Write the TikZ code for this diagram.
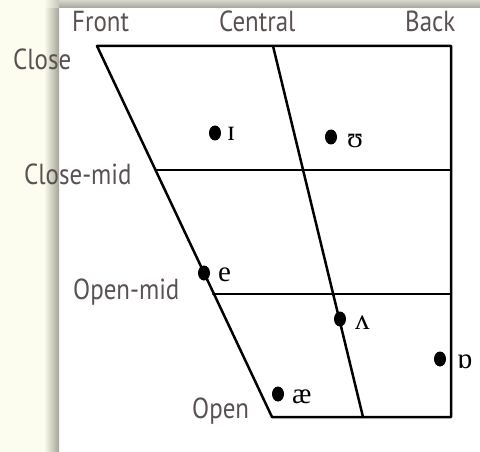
\documentclass[tikz,border=0pt]{standalone}
\usepackage{fontspec}
\usetikzlibrary{shapes.geometric}
\newfontfamily\labfont[FakeStretch=0.86]{PT Sans}
\newfontfamily\ipafont{Liberation Serif}
\definecolor{bgbeige}{HTML}{FDFDEF}
\definecolor{edgegray}{HTML}{A4A496}
\definecolor{topgray}{HTML}{C6C6BA}
\definecolor{labgray}{HTML}{5A5252}
\begin{document}
\begin{tikzpicture}[x=1pt,y=-1pt,
  frame/.style={line width=2.5pt,black,line cap=round,line join=round},
  axislab/.style={anchor=base west,inner sep=0pt,text=labgray,font=\labfont\fontsize{29}{29}\selectfont},
  vowel/.style={anchor=base west,inner sep=0pt,text=black,font=\ipafont\fontsize{29}{29}\selectfont},
  vdot/.style={ellipse,fill=black,minimum width=12pt,minimum height=15pt,inner sep=0pt}]
\useasboundingbox (0,0) rectangle (480,452);
% background panel with shadow
\fill[bgbeige] (0,0) rectangle (480,452);
\fill[white] (59,8) rectangle (480,452);
\shade[left color=bgbeige,right color=edgegray] (44,8) rectangle (59,452);
\shade[top color=topgray!70,bottom color=edgegray] (59,0) rectangle (480,8);
\shade[left color=bgbeige,right color=topgray] (44,0) rectangle (59,8);
% chart corners
\coordinate (TL) at (97,46);
\coordinate (TR) at (451,46);
\coordinate (BR) at (451,417);
\coordinate (BL) at (272,417);
\coordinate (CT) at (273,46);
\coordinate (CB) at (363,417);
\coordinate (CML) at (156,170);
\coordinate (CMR) at (451,170);
\coordinate (OML) at (213,294);
\coordinate (OMR) at (451,294);
\draw[frame] (TL) -- (TR) -- (BR) -- (BL) -- cycle;
\draw[frame] (CT) -- (CB);
\draw[frame] (CML) -- (CMR);
\draw[frame] (OML) -- (OMR);
% axis labels
\node[axislab] (front) at (72,32) {Front};
\node[axislab] (central) at (219,32) {Central};
\node[axislab] (back) at (405,32) {Back};
\node[axislab] (close) at (13,70) {Close};
\node[axislab] (closemid) at (24,185) {Close-mid};
\node[axislab] (openmid) at (73,299) {Open-mid};
\node[axislab] (open) at (192,418) {Open};
% vowels
\node[vdot] (d1) at (215,133) {};
\node[vowel] (v1) at (227,141) {ɪ};
\node[vdot] (d2) at (331,137) {};
\node[vowel] (v2) at (347,147) {ʊ};
\node[vdot] (d3) at (204,273) {};
\node[vowel] (v3) at (218,281) {e};
\node[vdot] (d4) at (340,319) {};
\node[vowel] (v4) at (355,329) {ʌ};
\node[vdot] (d5) at (440,359) {};
\node[vowel] (v5) at (457,368) {ɒ};
\node[vdot] (d6) at (278,394) {};
\node[vowel] (v6) at (292,403) {æ};
\end{tikzpicture}
\end{document}
